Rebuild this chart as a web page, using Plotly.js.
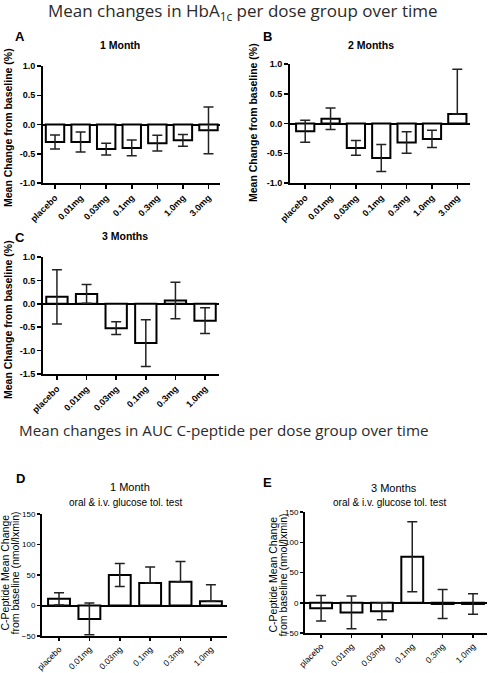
<!DOCTYPE html>
<html>
<head>
<meta charset="utf-8">
<script src="https://cdn.plot.ly/plotly-3.0.1.min.js"></script>
<style>html,body{margin:0;padding:0;background:#fff;}#chart{width:489px;height:673px;}</style>
</head>
<body>
<div id="chart"></div>
<script>
// ---------- data ----------
var dosesA = ['placebo','0.01mg','0.03mg','0.1mg','0.3mg','1.0mg','3.0mg'];
var dosesC = ['placebo','0.01mg','0.03mg','0.1mg','0.3mg','1.0mg'];

var hba1c1Month = [-0.30,-0.30,-0.42,-0.40,-0.32,-0.27,-0.10];
var hba1c1MonthErr = [0.12,0.17,0.10,0.135,0.135,0.10,0.40];

var hba1c2Months = [-0.13,0.08,-0.41,-0.58,-0.32,-0.26,0.16];
var hba1c2MonthsErrPlus = [0.185,0.18,0.125,0.225,0.18,0.145,0.75];
var hba1c2MonthsErrMinus = [0.185,0.18,0.125,0.225,0.18,0.145,0];

var hba1c3Months = [0.15,0.21,-0.52,-0.84,0.07,-0.36];
var hba1c3MonthsErr = [0.58,0.20,0.135,0.50,0.39,0.275];

var cpep1Month = [11,-22,50,37,39,7];
var cpep1MonthErrPlus = [10,26,19,26,33,27];
var cpep1MonthErrMinus = [10,26,19,0,0,0];

var cpep3Months = [-9,-16,-14,76,-2,-2];
var cpep3MonthsErr = [21,27,14,58,24,17];

var hbTicks = [-1.5,-1.0,-0.5,0.0,0.5,1.0];
var hbTickText = ['-1.5','-1.0','-0.5','0.0','0.5','1.0'];
var cpTicks = [-50,0,50,100,150];

// ---------- helpers (layout only) ----------
var W = 489, H = 673;
function px(x){ return x / W; }
function py(y){ return 1 - y / H; }
var FONT = 'Arial, Liberation Sans, sans-serif';

function barTrace(x, y, ep, em, xa, ya){
  return {
    type:'bar', x:x, y:y, xaxis:xa, yaxis:ya, width:0.72,
    marker:{color:'#ffffff', line:{color:'#000', width:2}},
    error_y:{type:'data', symmetric:false, array:ep, arrayminus:em,
             color:'#222', thickness:1.5, width:5},
    hoverinfo:'none'
  };
}

var data = [
  barTrace(dosesA, hba1c1Month, hba1c1MonthErr, hba1c1MonthErr, 'x', 'y'),
  barTrace(dosesA, hba1c2Months, hba1c2MonthsErrPlus, hba1c2MonthsErrMinus, 'x2', 'y2'),
  barTrace(dosesC, hba1c3Months, hba1c3MonthsErr, hba1c3MonthsErr, 'x3', 'y3'),
  barTrace(dosesC, cpep1Month, cpep1MonthErrPlus, cpep1MonthErrMinus, 'x4', 'y4'),
  barTrace(dosesC, cpep3Months, cpep3MonthsErr, cpep3MonthsErr, 'x5', 'y5')
];

var boldTick = {family:FONT, size:9, color:'#000', weight:'bold'};
var normTick = {family:FONT, size:8.5, color:'#000'};

function xAxis(dom, range, anchor, cats, tf){
  return {domain:dom, anchor:anchor, type:'category', categoryarray:cats, range:range,
    showgrid:false, zeroline:false, showline:true, linewidth:2, linecolor:'#000',
    ticks:'outside', ticklen:4, tickwidth:1.5, tickcolor:'#000', tickangle:-45,
    tickfont:tf, fixedrange:true};
}
function yAxis(dom, range, anchor, tv, tt, tf){
  return {domain:dom, anchor:anchor, range:range, tickvals:tv, ticktext:tt,
    showgrid:false, zeroline:true, zerolinewidth:2, zerolinecolor:'#000',
    showline:true, linewidth:2, linecolor:'#000',
    ticks:'outside', ticklen:4, tickwidth:1.5, tickcolor:'#000',
    tickfont:tf, fixedrange:true};
}

var layout = {
  width:W, height:H, margin:{l:0,r:0,t:0,b:0},
  paper_bgcolor:'#fff', plot_bgcolor:'#fff', showlegend:false,
  xaxis:  xAxis([px(43),px(220)], [-0.47,6.45], 'y', dosesA, boldTick),
  yaxis:  yAxis([py(183),py(66)], [-1,1], 'x', hbTicks, hbTickText, boldTick),
  xaxis2: xAxis([px(290),px(470)], [-0.6,6.5], 'y2', dosesA, boldTick),
  yaxis2: yAxis([py(183),py(64)], [-1,1], 'x2', hbTicks, hbTickText, boldTick),
  xaxis3: xAxis([px(43),px(219)], [-0.47,5.47], 'y3', dosesC, boldTick),
  yaxis3: yAxis([py(374),py(257)], [-1.5,1], 'x3', hbTicks, hbTickText, boldTick),
  xaxis4: xAxis([px(42),px(227)], [-0.56,5.53], 'y4', dosesC, normTick),
  yaxis4: yAxis([py(636),py(514)], [-50,150], 'x4', cpTicks, null, {family:FONT, size:8, color:'#000'}),
  xaxis5: xAxis([px(305),px(487)], [-0.53,5.46], 'y5', dosesC, normTick),
  yaxis5: yAxis([py(633),py(512)], [-50,150], 'x5', cpTicks, null, {family:FONT, size:8, color:'#000'}),
  annotations: []
};
layout.xaxis4.ticklen = 3; layout.xaxis5.ticklen = 3;
layout.yaxis4.ticklen = 3; layout.yaxis5.ticklen = 3;

function ann(text, x, y, size, opts){
  var a = {text:text, x:px(x), y:py(y), xref:'paper', yref:'paper',
    xanchor:'center', yanchor:'middle', showarrow:false,
    font:{family:FONT, size:size, color:'#000'}};
  for (var k in opts){ if (k==='font'){ for (var f in opts.font) a.font[f]=opts.font[f]; } else a[k]=opts[k]; }
  layout.annotations.push(a);
}

// section titles
ann('Mean changes in HbA<sub>1c</sub> per dose group over time', 243, 11, 17, {font:{family:'Open Sans, sans-serif', color:'#2a2a2a'}});
ann('Mean changes in AUC C-peptide per dose group over time', 224, 430, 15.2, {font:{family:'Open Sans, sans-serif', color:'#2a2a2a'}});

// panel letters
ann('A', 20, 36, 13, {font:{weight:'bold'}});
ann('B', 267, 36, 13, {font:{weight:'bold'}});
ann('C', 20, 237, 13, {font:{weight:'bold'}});
ann('D', 20, 478, 13, {font:{weight:'bold'}});
ann('E', 267, 482, 13, {font:{weight:'bold'}});

// panel titles
ann('1 Month', 120, 45, 10.5, {font:{weight:'bold'}});
ann('2 Months', 371, 45, 10.5, {font:{weight:'bold'}});
ann('3 Months', 125, 236, 10.5, {font:{weight:'bold'}});
ann('1 Month', 130, 487, 11, {});
ann('oral &amp; i.v. glucose tol. test', 125, 502, 10, {});
ann('3 Months', 394, 488, 11, {});
ann('oral &amp; i.v. glucose tol. test', 389, 502, 10, {});

// y-axis titles
ann('Mean Change from baseline (%)', 8, 128, 10.5, {textangle:-90, font:{weight:'bold'}});
ann('Mean Change from baseline (%)', 253, 123, 10.5, {textangle:-90, font:{weight:'bold'}});
ann('Mean Change from baseline (%)', 8, 320, 10.5, {textangle:-90, font:{weight:'bold'}});
ann('C-Peptide Mean Change', 4.5, 573, 10.5, {textangle:-90});
ann('from baseline (nmol/lxmin)', 14.5, 573, 10.5, {textangle:-90});
ann('C-Peptide Mean Change', 272.5, 575, 10.5, {textangle:-90});
ann('from baseline (nmol/lxmin)', 282.5, 575, 10.5, {textangle:-90});

Plotly.newPlot('chart', data, layout, {staticPlot:true, displayModeBar:false});
</script>
</body>
</html>
